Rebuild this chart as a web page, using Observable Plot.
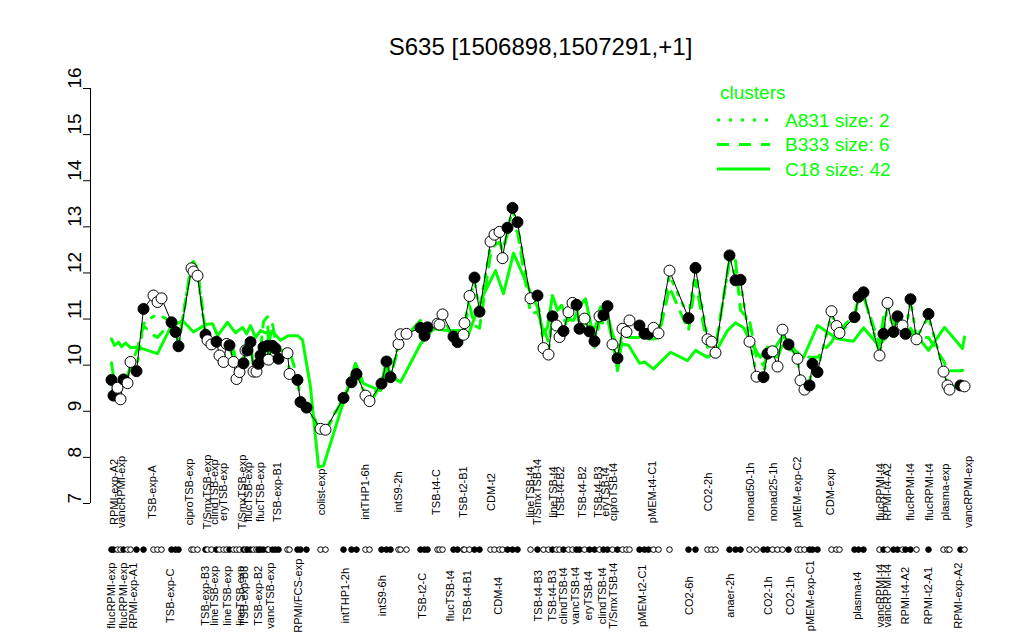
<!DOCTYPE html>
<html><head><meta charset="utf-8">
<script src="https://cdn.jsdelivr.net/npm/d3@7"></script>
<script src="https://cdn.jsdelivr.net/npm/@observablehq/plot@0.6"></script>
<style>
html,body{margin:0;padding:0;background:#fff;}
#wrap{position:relative;width:1024px;height:640px;font-family:"Liberation Sans",Arial,Helvetica,sans-serif;}
#legend{position:absolute;left:700px;top:75px;}
</style></head><body><div id="wrap"></div>
<script>
const title = "S635 [1506898,1507291,+1]";
const yTicks = [7, 8, 9, 10, 11, 12, 13, 14, 15, 16];
const xDomain = [-10, 880];

// sample order position, expression value, filled (1) or open (0)
const pos = [11,13,17,20,23,27,30,36,43,53, 57,61,71,75,78,91,93,97,105,107,
 111,116,119,123,126,129,133,136,139,143, 145,147,150,153,156,158,160,163,167,168,
 172,175,178,187,189,197,200,206,220,225, 243,251,256,265,269,281,286,290,298,300,
 306,320,324,327,337,339,342,353,357,363, 364,369,374,379,390,394,399,402,407,412,
 417,430,437,443,448,452,456,459,463,468, 472,476,479,484,489,494,499,503,507,512,
 517,522,526,529,539,544,548,553,558,569, 588,595,607,611,615,629,635,640,649,656,
 663,667,672,677,682,688,697,700,704,709, 712,717,731,736,739,754,758,763,779,783,
 787,793,797,802,805,810,816,828,843,847, 849,860,864];
const values = [9.68,9.34,9.51,9.26,9.69,9.61,10.07,9.87,11.22,11.51, 11.37,11.45,10.93,10.72,10.41,12.10,12.03,11.94,10.66,10.54,
 10.45,10.51,10.21,10.07,10.46,10.43,10.07,9.70,9.85,10.04, 10.32,10.32,10.50,9.86,9.86,10.03,10.21,10.39,10.42,10.12,
 10.42,10.36,10.14,10.26,9.81,9.68,9.20,9.08,8.62,8.60, 9.29,9.63,9.81,9.34,9.22,9.60,10.08,9.74,10.46,10.67,
 10.68,10.81,10.64,10.82,10.90,10.88,11.10,10.62,10.50,10.66, 10.91,11.50,11.90,11.16,12.68,12.83,12.89,12.32,12.98,13.41,
 13.10,11.45,11.51,10.37,10.23,11.06,10.86,10.61,10.74,11.15, 11.35,11.31,10.79,11.01,10.73,10.52,11.06,11.08,11.28,10.45,
 10.15,10.79,10.72,10.97,10.86,10.68,10.68,10.81,10.69,12.05, 11.02,12.11,10.56,10.51,10.27,12.38,11.84,11.85,10.51,9.75,
 9.74,10.25,10.30,9.97,10.77,10.45,10.14,9.67,9.47,9.56, 10.03,9.85,11.17,10.85,10.70,11.04,11.48,11.58,10.21,10.68,
 11.35,10.72,11.06,10.86,10.68,11.43,10.56,11.11,9.86,9.56, 9.47,9.56,9.54];
const filled = [1,1,0,0,1,0,0,1,1,0, 0,0,1,1,1,0,0,0,1,0,
 0,1,0,0,0,1,0,0,0,1, 0,1,1,0,0,1,1,1,1,0,
 1,1,1,0,0,1,1,1,0,0, 1,1,1,0,0,1,1,1,0,0,
 0,1,1,1,0,0,0,1,1,0, 0,0,1,1,0,0,0,0,1,1,
 1,0,1,0,0,1,0,0,1,0, 0,1,1,0,1,1,0,1,1,0,
 1,0,0,0,1,1,1,0,0,0, 1,1,0,0,0,1,1,1,0,0,
 1,1,0,0,0,1,0,0,0,1, 1,1,0,0,0,1,1,1,0,1,
 0,1,1,0,1,1,0,1,0,0, 0,1,0];

// cluster B333 (dashed), same sample positions
const b333 = [10.05,9.75,9.70,9.55,9.80,9.75,10.00,10.30,10.85,10.65, 10.60,10.70,11.00,10.80,10.45,12.20,12.25,12.10,10.70,10.55,
 10.50,10.55,10.25,10.10,10.55,10.40,10.35,10.00,9.90,10.10, 10.45,10.40,10.55,9.90,9.95,10.10,10.30,10.95,11.05,10.40,
 10.90,10.50,10.30,10.35,10.30,9.75,9.25,9.10,8.60,8.55, 9.30,9.65,9.85,9.35,9.15,9.60,10.10,9.75,10.38,10.55,
 10.65,10.97,10.70,10.85,10.85,10.90,11.05,10.55,10.39,10.60, 10.86,11.30,10.86,10.80,12.40,12.60,12.67,12.50,12.85,12.96,
 12.90,11.12,11.15,10.82,10.50,11.00,10.80,10.70,10.97,10.97, 11.20,11.25,10.90,10.95,10.80,10.39,10.95,10.90,11.00,10.55,
 9.88,10.60,10.62,10.60,10.60,10.58,10.57,10.57,10.60,11.69, 10.75,11.84,10.39,10.45,10.40,12.27,12.27,11.19,10.97,10.17,
 10.00,10.20,10.17,10.17,10.45,10.35,10.28,10.20,10.20,10.17, 10.17,10.17,10.50,10.70,10.75,11.10,11.45,11.48,10.46,11.04,
 10.95,10.90,11.19,10.90,10.70,10.80,10.60,10.60,10.10,9.88, 9.88,9.88,9.90];
// cluster A831 (dotted), same sample positions
const a831 = [9.75,9.40,9.55,9.30,9.70,9.65,10.05,9.90,10.90,11.06, 11.06,11.06,10.95,10.75,10.45,12.20,12.15,12.00,10.65,10.55,
 10.45,10.50,10.25,10.10,10.45,10.45,10.10,9.75,9.85,10.05, 10.35,10.35,10.50,9.90,9.90,10.05,10.25,10.40,10.45,10.15,
 10.45,10.40,10.15,10.25,9.85,9.70,9.20,9.10,8.65,8.60, 9.30,9.60,9.80,9.35,9.25,9.60,10.05,9.75,10.45,10.65,
 10.70,10.80,10.65,10.80,10.90,10.90,11.05,10.60,10.50,10.65, 10.90,11.45,11.80,11.20,12.60,12.80,12.85,12.35,12.95,13.35,
 13.05,11.40,11.45,10.45,10.30,11.00,10.85,10.65,10.75,11.10, 11.30,11.30,10.80,11.00,10.75,10.55,11.05,11.05,11.25,10.45,
 10.10,10.75,10.70,10.95,10.85,10.70,10.65,10.80,10.70,11.95, 11.05,12.05,10.60,10.55,10.30,12.30,11.90,11.80,10.55,9.80,
 9.80,10.25,10.30,10.00,10.75,10.45,10.15,9.70,9.50,9.60, 10.05,9.90,11.10,10.85,10.70,11.00,11.45,11.55,10.25,10.70,
 11.30,10.75,11.05,10.85,10.70,11.40,10.60,11.05,9.90,9.60, 9.50,9.60,9.55];
// cluster C18 (solid)
const c18Pos = [11,14,18,21,25,30,37,57,70,82,93,105,112,117,127,135,142,146,150,155,160,165,172,180,188,197,202,210,218,223,
 255,263,280,287,297,300,320,333,347,360,367,373,382,395,403,413,430,437,443,447,452,457,461,467,473,479,485,491,495,500,
 506,512,517,521,528,539,544,553,570,587,595,607,615,627,635,643,653,660,667,673,682,689,698,703,717,737,753,763,778,787,
 797,806,815,828,844,862,864];
const c18Val = [10.57,10.43,10.50,10.40,10.48,10.38,10.39,10.25,10.82,10.97,10.72,10.88,10.90,10.64,10.93,10.70,10.82,10.68,10.86,10.60,10.75,10.70,10.73,10.54,10.64,10.64,10.55,9.52,7.79,7.82,
 10.04,9.60,9.45,9.89,9.67,9.63,10.46,10.79,10.75,10.75,10.61,10.97,11.48,12.05,11.55,12.43,11.58,11.26,10.68,10.82,11.51,11.19,11.30,11.00,10.97,11.27,11.44,10.82,10.82,11.26,
 11.15,10.68,10.39,10.46,10.43,10.04,10.07,9.92,10.28,10.10,10.32,10.17,10.28,10.75,10.92,10.81,10.39,10.17,10.39,10.32,10.63,10.50,10.21,10.17,10.86,10.57,10.52,10.81,10.43,10.63,
 10.95,10.67,10.67,10.32,10.82,10.36,10.61];

const topLabels = ["RPMI-exp-A2","vancRPMI-exp","TSB-exp-A","ciproTSB-exp","T/SmxTSB-exp","clindTSB-exp","eryTSB-exp","T/SmxTSB-exp","flucTSB-exp","flucTSB-exp","TSB-exp-B1",
 "colist-exp","intTHP1-6h","intS9-2h","TSB-t4-C","TSB-t2-B1","CDM-t2","lineTSB-t4","T/SmxTSB-t4","lineTSB-t4","TSB-t4-B2","TSB-t4-B2","TSB-t4-B3","eryTSB-t4","ciproTSB-t4",
 "pMEM-t4-C1","CO2-2h","nonad50-1h","nonad25-1h","pMEM-exp-C2","CDM-exp","flucRPMI-t4","RPMI-t4-A2","flucRPMI-t4","flucRPMI-t4","plasma-exp","vancRPMI-exp"];
const topPos = [14,21,52,89,107,114,123,142,148,160,177, 221,265,298,336,363,391,430,437,453,460,482,498,505,513, 552,608,650,673,697,730,780,787,810,829,845,868];
const bottomLabels = ["flucRPMI-exp","flucRPMI-exp","RPMI-exp-A1","TSB-exp-C","TSB-exp-B3","lineTSB-exp","lineTSB-exp","lineTSB-exp","TSB-exp-B3","TSB-exp-B2","vancTSB-exp","RPMI/FCS-exp",
 "intTHP1-2h","intS9-6h","TSB-t2-C","flucTSB-t4","TSB-t4-B1","CDM-t4","TSB-t4-B3","TSB-t4-B3","clindTSB-t4","vancTSB-t4","eryTSB-t4","clindTSB-t4","T/SmxTSB-t4",
 "pMEM-t2-C1","CO2-6h","anaer-2h","CO2-1h","CO2-1h","pMEM-exp-C1","plasma-t4","vancRPMI-t4","vancRPMI-t4","RPMI-t4-A2","RPMI-t2-A1","RPMI-exp-A2"];
const bottomPos = [11,23,33,70,105,114,127,140,144,158,170,198, 245,282,322,350,367,398,438,452,463,475,488,502,513, 542,589,630,668,690,710,757,780,787,805,828,858];

const legendTitle = "clusters";
const legendItems = ["A831 size: 2", "B333 size: 6", "C18 size: 42"];
const legendDash = ["3,9", "12,10", null];

const green = "#00ff00";
const samples = pos.map((p, i) => ({pos: p, value: values[i], fill: filled[i] ? "black" : "white", b: b333[i], a: a831[i]}));
const c18 = c18Pos.map((p, i) => ({pos: p, value: c18Val[i]}));
const tops = topLabels.map((t, i) => ({t, pos: topPos[i]}));
const bots = bottomLabels.map((t, i) => ({t, pos: bottomPos[i]}));
const RUG_Y = 6, TOP_Y = 7.25, BOT_Y = 5;

const chart = Plot.plot({
  width: 1024, height: 640,
  marginLeft: 90, marginRight: 44, marginTop: 88, marginBottom: 137,
  style: {fontFamily: '"Liberation Sans", Arial, Helvetica, sans-serif', background: "white", color: "black"},
  x: {domain: xDomain, axis: null},
  y: {domain: [yTicks[0], yTicks[yTicks.length - 1]], axis: null},
  color: {type: "identity"},
  marks: [
    Plot.ruleX([xDomain[0]], {y1: yTicks[0], y2: yTicks[yTicks.length - 1], stroke: "black"}),
    Plot.axisY(yTicks, {tickSize: 7, tickFormat: () => "", label: null, stroke: "black"}),
    Plot.text(yTicks, {y: d => d, text: d => String(d), frameAnchor: "left", dx: -16, rotate: -90, fontSize: 19, fill: "black"}),
    Plot.line(c18, {x: "pos", y: "value", stroke: green, strokeWidth: 3}),
    Plot.line(samples, {x: "pos", y: "b", stroke: green, strokeWidth: 3, strokeDasharray: legendDash[1]}),
    Plot.line(samples, {x: "pos", y: "a", stroke: green, strokeWidth: 3, strokeDasharray: legendDash[0]}),
    Plot.line(samples, {x: "pos", y: "value", stroke: "black", strokeWidth: 1}),
    Plot.dot(samples, {x: "pos", y: "value", r: 5.5, stroke: "black", strokeWidth: 1, fill: "fill"}),
    Plot.dot(samples, {x: "pos", y: () => RUG_Y, r: 2.8, stroke: "black", strokeWidth: 1, fill: "fill"}),
    Plot.text(tops, {x: "pos", y: () => TOP_Y, text: "t", rotate: -90, fontSize: 11, fill: "black"}),
    Plot.text(bots, {x: "pos", y: () => BOT_Y, text: "t", rotate: -90, fontSize: 11, fill: "black"}),
    Plot.text([title], {frameAnchor: "top", lineAnchor: "middle", dx: 5, dy: -41, fontSize: 24, fill: "black"})
  ]
});
const wrap = document.getElementById("wrap");
wrap.appendChild(chart);

// legend overlay
const lg = d3.select(wrap).append("svg").attr("id", "legend").attr("width", 260).attr("height", 115)
  .style("font-family", '"Liberation Sans", Arial, Helvetica, sans-serif');
lg.append("text").attr("x", 20).attr("y", 17).attr("dy", "0.35em").attr("fill", green).attr("font-size", 19).text(legendTitle);
legendItems.forEach((t, i) => {
  const y = 45 + i * 24.5;
  const ln = lg.append("line").attr("x1", 17).attr("x2", 70).attr("y1", y).attr("y2", y)
    .attr("stroke", green).attr("stroke-width", 3);
  if (legendDash[i]) ln.attr("stroke-dasharray", legendDash[i]);
  lg.append("text").attr("x", 85).attr("y", y).attr("dy", "0.35em").attr("fill", green).attr("font-size", 19).text(t);
});
</script></body></html>
